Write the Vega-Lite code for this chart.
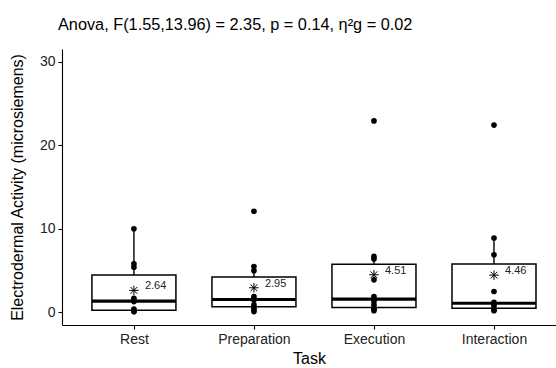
{
  "$schema": "https://vega.github.io/schema/vega-lite/v6.json",
  "autosize": {"type": "none"},
  "width": 494,
  "height": 276,
  "padding": {"left": 62, "top": 49, "right": 0, "bottom": 43},
  "background": "white",
  "config": {
    "font": "Liberation Sans",
    "view": {"stroke": null},
    "axis": {
      "grid": false,
      "domainColor": "black",
      "domainWidth": 1.1,
      "tickColor": "black",
      "tickWidth": 1.1,
      "tickSize": 4,
      "labelFont": "Liberation Sans",
      "labelFontSize": 14,
      "labelColor": "#222222",
      "titleFont": "Liberation Sans",
      "titleFontSize": 16,
      "titleFontWeight": "normal",
      "titleColor": "black"
    }
  },
  "title": {
    "text": "Anova, F(1.55,13.96) = 2.35, p = 0.14, η²g = 0.02",
    "anchor": "start",
    "frame": "group",
    "dx": -4,
    "fontSize": 16.3,
    "fontWeight": "normal",
    "font": "Liberation Sans",
    "color": "black",
    "offset": 16
  },
  "data": {
    "values": [
      {"task": "Rest", "eda": 10.0},
      {"task": "Rest", "eda": 5.8},
      {"task": "Rest", "eda": 5.4},
      {"task": "Rest", "eda": 1.7},
      {"task": "Rest", "eda": 1.4},
      {"task": "Rest", "eda": 1.3},
      {"task": "Rest", "eda": 0.4},
      {"task": "Rest", "eda": 0.2},
      {"task": "Rest", "eda": 0.1},
      {"task": "Rest", "eda": 0.1},
      {"task": "Preparation", "eda": 12.1},
      {"task": "Preparation", "eda": 5.5},
      {"task": "Preparation", "eda": 5.0},
      {"task": "Preparation", "eda": 1.9},
      {"task": "Preparation", "eda": 1.6},
      {"task": "Preparation", "eda": 1.5},
      {"task": "Preparation", "eda": 0.9},
      {"task": "Preparation", "eda": 0.6},
      {"task": "Preparation", "eda": 0.3},
      {"task": "Preparation", "eda": 0.1},
      {"task": "Execution", "eda": 22.9},
      {"task": "Execution", "eda": 6.7},
      {"task": "Execution", "eda": 6.4},
      {"task": "Execution", "eda": 3.9},
      {"task": "Execution", "eda": 1.9},
      {"task": "Execution", "eda": 1.3},
      {"task": "Execution", "eda": 0.9},
      {"task": "Execution", "eda": 0.5},
      {"task": "Execution", "eda": 0.4},
      {"task": "Execution", "eda": 0.2},
      {"task": "Interaction", "eda": 22.4},
      {"task": "Interaction", "eda": 8.9},
      {"task": "Interaction", "eda": 6.9},
      {"task": "Interaction", "eda": 2.5},
      {"task": "Interaction", "eda": 1.2},
      {"task": "Interaction", "eda": 1.0},
      {"task": "Interaction", "eda": 0.8},
      {"task": "Interaction", "eda": 0.4},
      {"task": "Interaction", "eda": 0.3},
      {"task": "Interaction", "eda": 0.2}
    ]
  },
  "encoding": {
    "x": {
      "field": "task",
      "type": "nominal",
      "sort": ["Rest", "Preparation", "Execution", "Interaction"],
      "scale": {"type": "point", "padding": 0.558, "align": 0.537},
      "axis": {"title": "Task", "labelAngle": 0, "labelPadding": 3, "titlePadding": 4}
    }
  },
  "layer": [
    {
      "mark": {
        "type": "boxplot",
        "extent": 1.5,
        "size": 84,
        "outliers": false,
        "ticks": false,
        "box": {"fill": "white", "stroke": "black", "strokeWidth": 1.5, "opacity": 1},
        "median": {"color": "black", "thickness": 3.2, "opacity": 1},
        "rule": {"stroke": "black", "strokeWidth": 1.4, "opacity": 1}
      },
      "encoding": {
        "y": {
          "field": "eda",
          "type": "quantitative",
          "scale": {"domain": [-1.5, 31.5], "nice": false, "zero": false},
          "axis": {"title": "Electrodermal Activity (microsiemens)", "values": [0, 10, 20, 30], "labelPadding": 3, "titlePadding": 14}
        }
      }
    },
    {
      "mark": {"type": "point", "filled": true, "color": "black", "size": 32, "opacity": 1},
      "encoding": {
        "y": {"field": "eda", "type": "quantitative"}
      }
    },
    {
      "mark": {
        "type": "point",
        "shape": "M-1,0L1,0M0,-1L0,1M-0.72,-0.72L0.72,0.72M-0.72,0.72L0.72,-0.72",
        "filled": false,
        "stroke": "black",
        "strokeWidth": 1,
        "size": 90,
        "opacity": 1
      },
      "encoding": {
        "y": {"aggregate": "mean", "field": "eda", "type": "quantitative"}
      }
    },
    {
      "mark": {"type": "text", "align": "left", "baseline": "middle", "dx": 11, "dy": -4, "fontSize": 11, "color": "#222222"},
      "encoding": {
        "y": {"aggregate": "mean", "field": "eda", "type": "quantitative"},
        "text": {"aggregate": "mean", "field": "eda", "type": "quantitative", "format": ".2f"}
      }
    }
  ]
}
